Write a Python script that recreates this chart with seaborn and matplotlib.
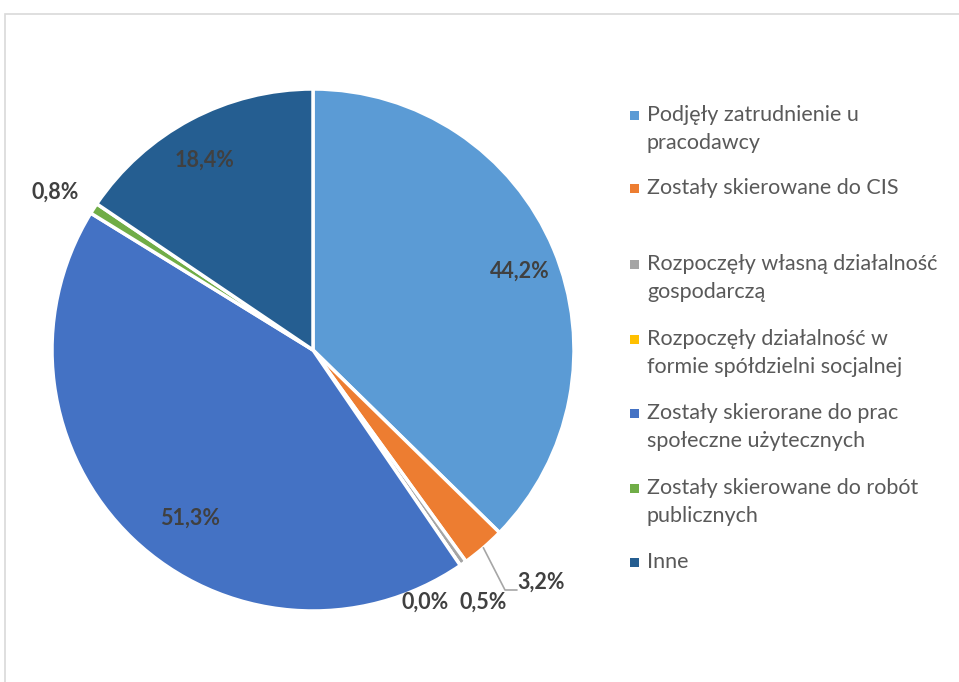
import numpy as np
import matplotlib
matplotlib.use("Agg")
import matplotlib.pyplot as plt
import seaborn as sns
from matplotlib.patches import Rectangle

# data
categories = [
    "Podjęły zatrudnienie u\npracodawcy",
    "Zostały skierowane do CIS",
    "Rozpoczęły własną działalność\ngospodarczą",
    "Rozpoczęły działalność w\nformie spółdzielni socjalnej",
    "Zostały skierorane do prac\nspołeczne użytecznych",
    "Zostały skierowane do robót\npublicznych",
    "Inne",
]
values = [44.2, 3.2, 0.5, 0.0, 51.3, 0.8, 18.4]
value_labels = ["44,2%", "3,2%", "0,5%", "0,0%", "51,3%", "0,8%", "18,4%"]
colors = ["#5B9BD5", "#ED7D31", "#A5A5A5", "#FFC000", "#4472C4", "#70AD47", "#255E91"]

sns.set_style("white")
plt.rcParams['font.family'] = ['Lato', 'DejaVu Sans']

W, H = 959, 682
fig = plt.figure(figsize=(W / 100, H / 100), dpi=100)

# outer frame like the Excel chart area
fig.patches.append(Rectangle((5 / W, -0.1), 1.2, 1 - 14 / H + 0.1, transform=fig.transFigure,
                             fill=False, edgecolor="#D9D9D9", linewidth=1.2))

cx, cy, r = 313, 350, 261
ax = fig.add_axes([(cx - r) / W, (H - cy - r) / H, 2 * r / W, 2 * r / H])
palette = sns.color_palette(colors)
wedges, _ = ax.pie(values, colors=palette, startangle=90, counterclock=False, radius=1,
                   wedgeprops=dict(edgecolor="white", linewidth=2.5))
ax.set_xlim(-1, 1)
ax.set_ylim(-1, 1)
ax.axis("off")


def px(x, y):
    return ((x - cx) / r, (cy - y) / r)


# label positions in picture pixels
label_pos = [(520, 271), (541, 582), (483, 602), (425, 602), (190, 518), (55, 192), (205, 160)]
for i, (lab, pos) in enumerate(zip(value_labels, label_pos)):
    ax.text(*px(*pos), lab, ha="center", va="center", fontsize=15.5,
            fontweight="bold", color="#404040", clip_on=False)

# leader line for the CIS slice
w = wedges[1]
mid = np.deg2rad((w.theta1 + w.theta2) / 2)
start = (np.cos(mid), np.sin(mid))
elbow = px(505, 590)
end = px(517, 590)
ax.plot([start[0], elbow[0], end[0]], [start[1], elbow[1], end[1]],
        color="#A6A6A6", linewidth=1.2, clip_on=False)

# legend drawn by hand so markers sit on the first line
leg_y = [115, 188, 264, 339, 413, 488, 562]
for cat, col, y in zip(categories, colors, leg_y):
    fig.patches.append(Rectangle((630 / W, 1 - (y + 4.5) / H), 9 / W, 9 / H,
                                 transform=fig.transFigure, facecolor=col, edgecolor="none"))
    for k, line in enumerate(cat.split("\n")):
        fig.text(647 / W, 1 - (y + 28 * k) / H, line, ha="left", va="center",
                 fontsize=15.5, color="#595959")

fig.savefig("out.png", dpi=100)
